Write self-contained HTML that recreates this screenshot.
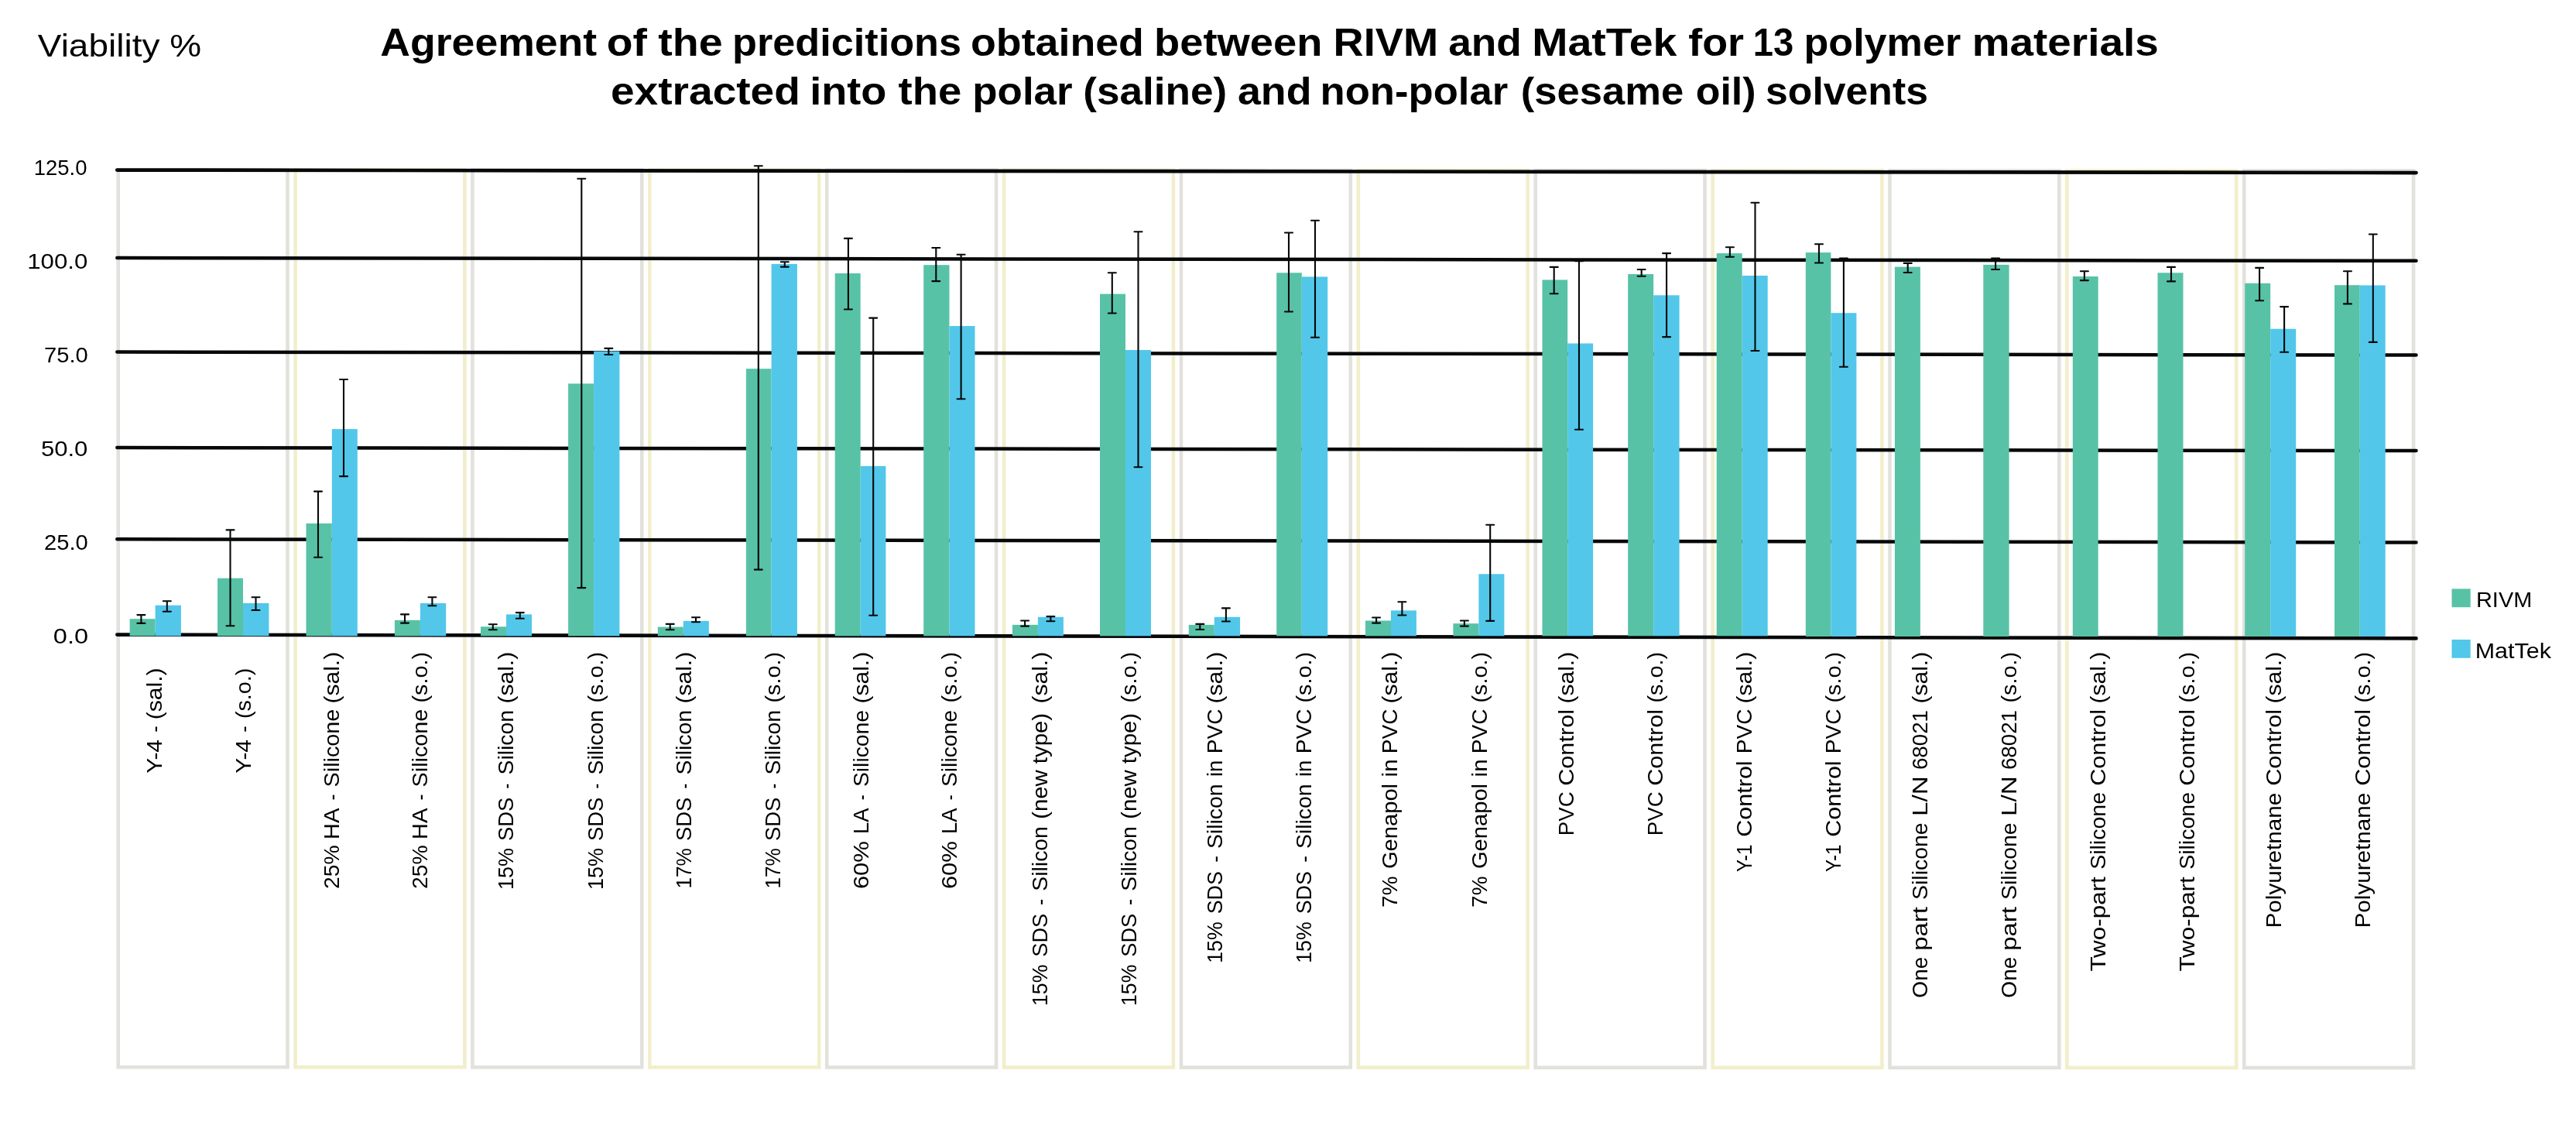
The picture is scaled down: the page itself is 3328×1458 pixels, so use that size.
<!DOCTYPE html>
<html lang="en">
<head>
<meta charset="utf-8">
<title>Agreement of the predictions obtained between RIVM and MatTek</title>
<style>
html,body{margin:0;padding:0;background:#fff;}
body{width:3328px;height:1458px;overflow:hidden;font-family:"Liberation Sans",sans-serif;}
svg{display:block;will-change:transform;}
svg text{font-family:"Liberation Sans",sans-serif;fill:#000;}
</style>
</head>
<body>
<svg width="3328" height="1458" viewBox="0 0 3328 1458">
<rect x="0" y="0" width="3328" height="1458" fill="#ffffff"/>
<rect x="152.70" y="219.20" width="218.80" height="1158.90" fill="none" stroke="#e2e1dc" stroke-width="4.6"/>
<rect x="381.58" y="219.31" width="218.80" height="1158.86" fill="none" stroke="#f2eecb" stroke-width="4.6"/>
<rect x="610.46" y="219.42" width="218.80" height="1158.82" fill="none" stroke="#e2e1dc" stroke-width="4.6"/>
<rect x="839.34" y="219.53" width="218.80" height="1158.78" fill="none" stroke="#f2eecb" stroke-width="4.6"/>
<rect x="1068.22" y="219.63" width="218.80" height="1158.73" fill="none" stroke="#e2e1dc" stroke-width="4.6"/>
<rect x="1297.10" y="219.74" width="218.80" height="1158.69" fill="none" stroke="#f2eecb" stroke-width="4.6"/>
<rect x="1525.98" y="219.85" width="218.80" height="1158.65" fill="none" stroke="#e2e1dc" stroke-width="4.6"/>
<rect x="1754.86" y="219.96" width="218.80" height="1158.61" fill="none" stroke="#f2eecb" stroke-width="4.6"/>
<rect x="1983.74" y="220.07" width="218.80" height="1158.57" fill="none" stroke="#e2e1dc" stroke-width="4.6"/>
<rect x="2212.62" y="220.18" width="218.80" height="1158.53" fill="none" stroke="#f2eecb" stroke-width="4.6"/>
<rect x="2441.50" y="220.28" width="218.80" height="1158.48" fill="none" stroke="#e2e1dc" stroke-width="4.6"/>
<rect x="2670.38" y="220.39" width="218.80" height="1158.44" fill="none" stroke="#f2eecb" stroke-width="4.6"/>
<rect x="2899.26" y="220.50" width="218.80" height="1158.40" fill="none" stroke="#e2e1dc" stroke-width="4.6"/>
<line x1="151.3" y1="219.6" x2="3121.5" y2="223.1" stroke="#060809" stroke-width="4.7" stroke-linecap="round"/>
<line x1="151.3" y1="333.0" x2="3121.5" y2="336.8" stroke="#060809" stroke-width="4.5" stroke-linecap="round"/>
<line x1="151.3" y1="454.5" x2="3121.5" y2="458.6" stroke="#060809" stroke-width="4.5" stroke-linecap="round"/>
<line x1="151.3" y1="578.1" x2="3121.5" y2="582.1" stroke="#060809" stroke-width="4.5" stroke-linecap="round"/>
<line x1="151.3" y1="696.3" x2="3121.5" y2="700.5" stroke="#060809" stroke-width="4.5" stroke-linecap="round"/>
<line x1="151.3" y1="819.6" x2="3121.5" y2="824.4" stroke="#060809" stroke-width="4.6" stroke-linecap="round"/>
<rect x="167.6" y="799.2" width="33.00" height="22.10" fill="#58c2a7"/>
<rect x="200.6" y="781.7" width="33.30" height="39.60" fill="#52c7ea"/>
<rect x="281.0" y="746.7" width="33.00" height="74.60" fill="#58c2a7"/>
<rect x="314.0" y="779.0" width="33.40" height="42.30" fill="#52c7ea"/>
<rect x="395.5" y="676.0" width="33.30" height="145.30" fill="#58c2a7"/>
<rect x="428.8" y="554.1" width="33.00" height="267.20" fill="#52c7ea"/>
<rect x="509.9" y="800.9" width="33.00" height="20.40" fill="#58c2a7"/>
<rect x="542.9" y="779.0" width="33.30" height="42.30" fill="#52c7ea"/>
<rect x="621.0" y="809.3" width="33.00" height="12.00" fill="#58c2a7"/>
<rect x="654.0" y="793.4" width="33.00" height="27.90" fill="#52c7ea"/>
<rect x="734.1" y="495.4" width="33.00" height="325.90" fill="#58c2a7"/>
<rect x="767.1" y="453.6" width="33.30" height="367.70" fill="#52c7ea"/>
<rect x="849.8" y="809.6" width="33.00" height="11.70" fill="#58c2a7"/>
<rect x="882.8" y="801.9" width="33.00" height="19.40" fill="#52c7ea"/>
<rect x="963.9" y="476.2" width="32.70" height="345.10" fill="#58c2a7"/>
<rect x="996.6" y="340.9" width="33.30" height="480.40" fill="#52c7ea"/>
<rect x="1078.7" y="353.0" width="33.00" height="468.30" fill="#58c2a7"/>
<rect x="1111.7" y="601.9" width="32.70" height="219.40" fill="#52c7ea"/>
<rect x="1193.2" y="342.2" width="33.30" height="479.10" fill="#58c2a7"/>
<rect x="1226.5" y="421.0" width="33.00" height="400.30" fill="#52c7ea"/>
<rect x="1307.9" y="806.9" width="33.00" height="14.40" fill="#58c2a7"/>
<rect x="1340.9" y="796.8" width="33.00" height="24.50" fill="#52c7ea"/>
<rect x="1421.0" y="379.6" width="33.00" height="441.70" fill="#58c2a7"/>
<rect x="1454.0" y="452.0" width="33.00" height="369.30" fill="#52c7ea"/>
<rect x="1535.8" y="806.9" width="33.00" height="14.40" fill="#58c2a7"/>
<rect x="1568.8" y="796.8" width="33.30" height="24.50" fill="#52c7ea"/>
<rect x="1649.2" y="352.3" width="32.60" height="469.00" fill="#58c2a7"/>
<rect x="1681.8" y="357.4" width="33.40" height="463.90" fill="#52c7ea"/>
<rect x="1764.0" y="801.5" width="33.00" height="19.80" fill="#58c2a7"/>
<rect x="1797.0" y="788.4" width="32.90" height="32.90" fill="#52c7ea"/>
<rect x="1877.4" y="805.2" width="33.00" height="16.10" fill="#58c2a7"/>
<rect x="1910.4" y="741.3" width="33.00" height="80.00" fill="#52c7ea"/>
<rect x="1992.5" y="361.4" width="32.70" height="459.90" fill="#58c2a7"/>
<rect x="2025.2" y="443.5" width="32.90" height="377.80" fill="#52c7ea"/>
<rect x="2103.2" y="354.0" width="33.00" height="467.30" fill="#58c2a7"/>
<rect x="2136.2" y="381.3" width="33.40" height="440.00" fill="#52c7ea"/>
<rect x="2217.7" y="327.1" width="33.00" height="494.20" fill="#58c2a7"/>
<rect x="2250.7" y="356.0" width="33.00" height="465.30" fill="#52c7ea"/>
<rect x="2332.8" y="326.1" width="32.60" height="495.90" fill="#58c2a7"/>
<rect x="2365.4" y="404.2" width="33.00" height="417.80" fill="#52c7ea"/>
<rect x="2447.9" y="344.6" width="33.00" height="477.40" fill="#58c2a7"/>
<rect x="2562.3" y="341.9" width="33.30" height="480.10" fill="#58c2a7"/>
<rect x="2677.8" y="357.0" width="32.90" height="465.00" fill="#58c2a7"/>
<rect x="2787.5" y="352.3" width="33.00" height="469.70" fill="#58c2a7"/>
<rect x="2900.2" y="365.8" width="33.00" height="456.20" fill="#58c2a7"/>
<rect x="2933.2" y="424.7" width="33.00" height="397.30" fill="#52c7ea"/>
<rect x="3016.0" y="368.2" width="32.70" height="453.80" fill="#58c2a7"/>
<rect x="3048.7" y="368.5" width="33.00" height="453.50" fill="#52c7ea"/>
<path d="M182.4 794.1V804.9M177.40 794.1h10.0M177.40 804.9h10.0M215.8 776.3V789.7M210.80 776.3h10.0M210.80 789.7h10.0M297.5 684.4V808.3M292.50 684.4h10.0M292.50 808.3h10.0M330.5 771.2V788.0M325.50 771.2h10.0M325.50 788.0h10.0M411.0 634.6V719.7M406.00 634.6h10.0M406.00 719.7h10.0M444.0 490.0V615.1M439.00 490.0h10.0M439.00 615.1h10.0M523.0 793.4V804.6M518.00 793.4h10.0M518.00 804.6h10.0M558.4 771.2V782.3M553.40 771.2h10.0M553.40 782.3h10.0M636.8 806.2V813.3M631.80 806.2h10.0M631.80 813.3h10.0M671.8 791.1V798.8M666.80 791.1h10.0M666.80 798.8h10.0M751.3 230.8V759.1M746.30 230.8h10.0M746.30 759.1h10.0M786.3 449.9V458.0M781.30 449.9h10.0M781.30 458.0h10.0M865.7 805.9V813.3M860.70 805.9h10.0M860.70 813.3h10.0M899.0 797.2V803.2M894.00 797.2h10.0M894.00 803.2h10.0M979.8 214.3V735.6M974.80 214.3h10.0M974.80 735.6h10.0M1013.8 338.2V344.6M1008.80 338.2h10.0M1008.80 344.6h10.0M1095.9 307.9V399.5M1090.90 307.9h10.0M1090.90 399.5h10.0M1128.2 410.6V794.8M1123.20 410.6h10.0M1123.20 794.8h10.0M1209.3 320.0V363.1M1204.30 320.0h10.0M1204.30 363.1h10.0M1241.6 328.8V515.2M1236.60 328.8h10.0M1236.60 515.2h10.0M1324.1 801.5V808.6M1319.10 801.5h10.0M1319.10 808.6h10.0M1357.4 796.1V802.2M1352.40 796.1h10.0M1352.40 802.2h10.0M1436.8 352.3V404.5M1431.80 352.3h10.0M1431.80 404.5h10.0M1470.5 299.2V603.3M1465.50 299.2h10.0M1465.50 603.3h10.0M1550.3 805.9V813.0M1545.30 805.9h10.0M1545.30 813.0h10.0M1583.9 785.4V802.5M1578.90 785.4h10.0M1578.90 802.5h10.0M1665.0 300.5V402.5M1660.00 300.5h10.0M1660.00 402.5h10.0M1699.0 284.7V435.8M1694.00 284.7h10.0M1694.00 435.8h10.0M1778.1 797.5V804.6M1773.10 797.5h10.0M1773.10 804.6h10.0M1811.4 777.3V794.5M1806.40 777.3h10.0M1806.40 794.5h10.0M1891.9 801.5V808.6M1886.90 801.5h10.0M1886.90 808.6h10.0M1925.2 677.7V801.9M1920.20 677.7h10.0M1920.20 801.9h10.0M2007.7 344.9V379.3M2002.70 344.9h10.0M2002.70 379.3h10.0M2040.0 337.2V554.8M2035.00 337.2h10.0M2035.00 554.8h10.0M2120.7 348.0V356.7M2115.70 348.0h10.0M2115.70 356.7h10.0M2153.1 327.1V435.1M2148.10 327.1h10.0M2148.10 435.1h10.0M2234.9 319.3V331.8M2229.90 319.3h10.0M2229.90 331.8h10.0M2267.5 261.8V453.0M2262.50 261.8h10.0M2262.50 453.0h10.0M2350.0 315.3V339.5M2345.00 315.3h10.0M2345.00 339.5h10.0M2381.9 333.5V473.8M2376.90 333.5h10.0M2376.90 473.8h10.0M2464.7 339.9V352.0M2459.70 339.9h10.0M2459.70 352.0h10.0M2578.1 333.5V348.0M2573.10 333.5h10.0M2573.10 348.0h10.0M2692.9 350.3V362.1M2687.90 350.3h10.0M2687.90 362.1h10.0M2805.0 344.9V363.4M2800.00 344.9h10.0M2800.00 363.4h10.0M2919.1 345.9V388.3M2914.10 345.9h10.0M2914.10 388.3h10.0M2951.1 396.1V454.7M2946.10 396.1h10.0M2946.10 454.7h10.0M3032.9 350.3V392.4M3027.90 350.3h10.0M3027.90 392.4h10.0M3065.8 302.5V441.9M3060.80 302.5h10.0M3060.80 441.9h10.0" fill="none" stroke="#060809" stroke-width="2.1" stroke-linecap="round"/>
<text x="43.81" y="225.9" font-size="27.5" textLength="68.68" lengthAdjust="spacingAndGlyphs">125.0</text>
<text x="35.25" y="346.6" font-size="27.5" textLength="78.13" lengthAdjust="spacingAndGlyphs">100.0</text>
<text x="57.10" y="467.8" font-size="27.5" textLength="56.70" lengthAdjust="spacingAndGlyphs">75.0</text>
<text x="52.93" y="588.9" font-size="27.5" textLength="60.48" lengthAdjust="spacingAndGlyphs">50.0</text>
<text x="57.10" y="710.1" font-size="27.5" textLength="56.70" lengthAdjust="spacingAndGlyphs">25.0</text>
<text x="68.88" y="831.0" font-size="27.5" textLength="45.17" lengthAdjust="spacingAndGlyphs">0.0</text>
<text x="48.83" y="73.4" font-size="40.6" textLength="211.21" lengthAdjust="spacingAndGlyphs">Viability %</text>
<text x="491.36" y="72.4" font-size="50.7" font-weight="bold" textLength="279.81" lengthAdjust="spacingAndGlyphs">Agreement</text>
<text x="783.83" y="72.4" font-size="50.7" font-weight="bold" textLength="52.12" lengthAdjust="spacingAndGlyphs">of</text>
<text x="850.26" y="72.4" font-size="50.7" font-weight="bold" textLength="83.44" lengthAdjust="spacingAndGlyphs">the</text>
<text x="945.98" y="72.4" font-size="50.7" font-weight="bold" textLength="296.11" lengthAdjust="spacingAndGlyphs">predicitions</text>
<text x="1254.04" y="72.4" font-size="50.7" font-weight="bold" textLength="223.91" lengthAdjust="spacingAndGlyphs">obtained</text>
<text x="1491.14" y="72.4" font-size="50.7" font-weight="bold" textLength="217.35" lengthAdjust="spacingAndGlyphs">between</text>
<text x="1722.56" y="72.4" font-size="50.7" font-weight="bold" textLength="135.51" lengthAdjust="spacingAndGlyphs">RIVM</text>
<text x="1871.15" y="72.4" font-size="50.7" font-weight="bold" textLength="94.82" lengthAdjust="spacingAndGlyphs">and</text>
<text x="1979.30" y="72.4" font-size="50.7" font-weight="bold" textLength="187.05" lengthAdjust="spacingAndGlyphs">MatTek</text>
<text x="2181.21" y="72.4" font-size="50.7" font-weight="bold" textLength="71.82" lengthAdjust="spacingAndGlyphs">for</text>
<text x="2264.72" y="72.4" font-size="50.7" font-weight="bold" textLength="52.49" lengthAdjust="spacingAndGlyphs">13</text>
<text x="2330.51" y="72.4" font-size="50.7" font-weight="bold" textLength="202.66" lengthAdjust="spacingAndGlyphs">polymer</text>
<text x="2547.77" y="72.4" font-size="50.7" font-weight="bold" textLength="240.91" lengthAdjust="spacingAndGlyphs">materials</text>
<text x="788.99" y="135.3" font-size="50.7" font-weight="bold" textLength="244.90" lengthAdjust="spacingAndGlyphs">extracted</text>
<text x="1046.19" y="135.3" font-size="50.7" font-weight="bold" textLength="99.28" lengthAdjust="spacingAndGlyphs">into</text>
<text x="1160.58" y="135.3" font-size="50.7" font-weight="bold" textLength="81.65" lengthAdjust="spacingAndGlyphs">the</text>
<text x="1256.30" y="135.3" font-size="50.7" font-weight="bold" textLength="129.32" lengthAdjust="spacingAndGlyphs">polar</text>
<text x="1399.25" y="135.3" font-size="50.7" font-weight="bold" textLength="185.92" lengthAdjust="spacingAndGlyphs">(saline)</text>
<text x="1598.94" y="135.3" font-size="50.7" font-weight="bold" textLength="95.61" lengthAdjust="spacingAndGlyphs">and</text>
<text x="1705.56" y="135.3" font-size="50.7" font-weight="bold" textLength="242.65" lengthAdjust="spacingAndGlyphs">non-polar</text>
<text x="1964.83" y="135.3" font-size="50.7" font-weight="bold" textLength="210.47" lengthAdjust="spacingAndGlyphs">(sesame</text>
<text x="2190.78" y="135.3" font-size="50.7" font-weight="bold" textLength="77.81" lengthAdjust="spacingAndGlyphs">oil)</text>
<text x="2281.04" y="135.3" font-size="50.7" font-weight="bold" textLength="209.88" lengthAdjust="spacingAndGlyphs">solvents</text>
<rect x="3167.5" y="760.4" width="24.2" height="23.8" fill="#58c2a7"/>
<rect x="3167.5" y="826.0" width="24.2" height="23.8" fill="#52c7ea"/>
<text x="3199.03" y="784.0" font-size="27.8" textLength="72.20" lengthAdjust="spacingAndGlyphs">RIVM</text>
<text x="3197.70" y="849.9" font-size="27.8" textLength="98.25" lengthAdjust="spacingAndGlyphs">MatTek</text>
<text transform="translate(209.3 929.23) rotate(-90)" font-size="27.5" textLength="66.73" lengthAdjust="spacingAndGlyphs">(sal.)</text>
<text transform="translate(209.3 945.70) rotate(-90)" font-size="27.5" textLength="8.40" lengthAdjust="spacingAndGlyphs">-</text>
<text transform="translate(209.3 998.71) rotate(-90)" font-size="27.5" textLength="43.64" lengthAdjust="spacingAndGlyphs">Y-4</text>
<text transform="translate(323.8 928.09) rotate(-90)" font-size="27.5" textLength="65.48" lengthAdjust="spacingAndGlyphs">(s.o.)</text>
<text transform="translate(323.8 945.70) rotate(-90)" font-size="27.5" textLength="8.40" lengthAdjust="spacingAndGlyphs">-</text>
<text transform="translate(323.8 998.71) rotate(-90)" font-size="27.5" textLength="43.64" lengthAdjust="spacingAndGlyphs">Y-4</text>
<text transform="translate(438.0 908.52) rotate(-90)" font-size="27.5" textLength="66.73" lengthAdjust="spacingAndGlyphs">(sal.)</text>
<text transform="translate(438.0 1016.42) rotate(-90)" font-size="27.5" textLength="100.69" lengthAdjust="spacingAndGlyphs">Silicone</text>
<text transform="translate(438.0 1033.40) rotate(-90)" font-size="27.5" textLength="7.94" lengthAdjust="spacingAndGlyphs">-</text>
<text transform="translate(438.0 1084.18) rotate(-90)" font-size="27.5" textLength="40.75" lengthAdjust="spacingAndGlyphs">HA</text>
<text transform="translate(438.0 1147.90) rotate(-90)" font-size="27.5" textLength="56.66" lengthAdjust="spacingAndGlyphs">25%</text>
<text transform="translate(552.0 907.47) rotate(-90)" font-size="27.5" textLength="65.48" lengthAdjust="spacingAndGlyphs">(s.o.)</text>
<text transform="translate(552.0 1016.42) rotate(-90)" font-size="27.5" textLength="100.69" lengthAdjust="spacingAndGlyphs">Silicone</text>
<text transform="translate(552.0 1033.40) rotate(-90)" font-size="27.5" textLength="7.94" lengthAdjust="spacingAndGlyphs">-</text>
<text transform="translate(552.0 1084.18) rotate(-90)" font-size="27.5" textLength="40.75" lengthAdjust="spacingAndGlyphs">HA</text>
<text transform="translate(552.0 1147.90) rotate(-90)" font-size="27.5" textLength="56.66" lengthAdjust="spacingAndGlyphs">25%</text>
<text transform="translate(663.2 908.52) rotate(-90)" font-size="27.5" textLength="66.73" lengthAdjust="spacingAndGlyphs">(sal.)</text>
<text transform="translate(663.2 1000.47) rotate(-90)" font-size="27.5" textLength="83.49" lengthAdjust="spacingAndGlyphs">Silicon</text>
<text transform="translate(663.2 1018.50) rotate(-90)" font-size="27.5" textLength="6.60" lengthAdjust="spacingAndGlyphs">-</text>
<text transform="translate(663.2 1086.04) rotate(-90)" font-size="27.5" textLength="56.28" lengthAdjust="spacingAndGlyphs">SDS</text>
<text transform="translate(663.2 1148.99) rotate(-90)" font-size="27.5" textLength="53.98" lengthAdjust="spacingAndGlyphs">15%</text>
<text transform="translate(778.5 907.47) rotate(-90)" font-size="27.5" textLength="65.48" lengthAdjust="spacingAndGlyphs">(s.o.)</text>
<text transform="translate(778.5 1000.47) rotate(-90)" font-size="27.5" textLength="83.49" lengthAdjust="spacingAndGlyphs">Silicon</text>
<text transform="translate(778.5 1018.50) rotate(-90)" font-size="27.5" textLength="6.60" lengthAdjust="spacingAndGlyphs">-</text>
<text transform="translate(778.5 1086.04) rotate(-90)" font-size="27.5" textLength="56.28" lengthAdjust="spacingAndGlyphs">SDS</text>
<text transform="translate(778.5 1148.99) rotate(-90)" font-size="27.5" textLength="53.98" lengthAdjust="spacingAndGlyphs">15%</text>
<text transform="translate(892.6 908.52) rotate(-90)" font-size="27.5" textLength="66.73" lengthAdjust="spacingAndGlyphs">(sal.)</text>
<text transform="translate(892.6 1000.47) rotate(-90)" font-size="27.5" textLength="83.49" lengthAdjust="spacingAndGlyphs">Silicon</text>
<text transform="translate(892.6 1018.50) rotate(-90)" font-size="27.5" textLength="6.60" lengthAdjust="spacingAndGlyphs">-</text>
<text transform="translate(892.6 1086.04) rotate(-90)" font-size="27.5" textLength="56.28" lengthAdjust="spacingAndGlyphs">SDS</text>
<text transform="translate(892.6 1147.47) rotate(-90)" font-size="27.5" textLength="52.29" lengthAdjust="spacingAndGlyphs">17%</text>
<text transform="translate(1007.7 907.47) rotate(-90)" font-size="27.5" textLength="65.48" lengthAdjust="spacingAndGlyphs">(s.o.)</text>
<text transform="translate(1007.7 1000.47) rotate(-90)" font-size="27.5" textLength="83.49" lengthAdjust="spacingAndGlyphs">Silicon</text>
<text transform="translate(1007.7 1018.50) rotate(-90)" font-size="27.5" textLength="6.60" lengthAdjust="spacingAndGlyphs">-</text>
<text transform="translate(1007.7 1086.04) rotate(-90)" font-size="27.5" textLength="56.28" lengthAdjust="spacingAndGlyphs">SDS</text>
<text transform="translate(1007.7 1147.47) rotate(-90)" font-size="27.5" textLength="52.29" lengthAdjust="spacingAndGlyphs">17%</text>
<text transform="translate(1121.5 908.52) rotate(-90)" font-size="27.5" textLength="66.73" lengthAdjust="spacingAndGlyphs">(sal.)</text>
<text transform="translate(1121.5 1016.04) rotate(-90)" font-size="27.5" textLength="99.07" lengthAdjust="spacingAndGlyphs">Silicone</text>
<text transform="translate(1121.5 1033.30) rotate(-90)" font-size="27.5" textLength="6.80" lengthAdjust="spacingAndGlyphs">-</text>
<text transform="translate(1121.5 1077.04) rotate(-90)" font-size="27.5" textLength="33.50" lengthAdjust="spacingAndGlyphs">LA</text>
<text transform="translate(1121.5 1148.09) rotate(-90)" font-size="27.5" textLength="61.86" lengthAdjust="spacingAndGlyphs">60%</text>
<text transform="translate(1235.9 907.47) rotate(-90)" font-size="27.5" textLength="65.48" lengthAdjust="spacingAndGlyphs">(s.o.)</text>
<text transform="translate(1235.9 1016.04) rotate(-90)" font-size="27.5" textLength="99.07" lengthAdjust="spacingAndGlyphs">Silicone</text>
<text transform="translate(1235.9 1033.30) rotate(-90)" font-size="27.5" textLength="6.80" lengthAdjust="spacingAndGlyphs">-</text>
<text transform="translate(1235.9 1077.04) rotate(-90)" font-size="27.5" textLength="33.50" lengthAdjust="spacingAndGlyphs">LA</text>
<text transform="translate(1235.9 1148.09) rotate(-90)" font-size="27.5" textLength="61.86" lengthAdjust="spacingAndGlyphs">60%</text>
<text transform="translate(1353.0 908.52) rotate(-90)" font-size="27.5" textLength="66.73" lengthAdjust="spacingAndGlyphs">(sal.)</text>
<text transform="translate(1353.0 1057.85) rotate(-90)" font-size="27.5" textLength="136.86" lengthAdjust="spacingAndGlyphs">(new type)</text>
<text transform="translate(1353.0 1150.66) rotate(-90)" font-size="27.5" textLength="83.49" lengthAdjust="spacingAndGlyphs">Silicon</text>
<text transform="translate(1353.0 1169.09) rotate(-90)" font-size="27.5" textLength="8.19" lengthAdjust="spacingAndGlyphs">-</text>
<text transform="translate(1353.0 1235.66) rotate(-90)" font-size="27.5" textLength="55.91" lengthAdjust="spacingAndGlyphs">SDS</text>
<text transform="translate(1353.0 1298.99) rotate(-90)" font-size="27.5" textLength="53.46" lengthAdjust="spacingAndGlyphs">15%</text>
<text transform="translate(1467.5 907.47) rotate(-90)" font-size="27.5" textLength="65.48" lengthAdjust="spacingAndGlyphs">(s.o.)</text>
<text transform="translate(1467.5 1057.85) rotate(-90)" font-size="27.5" textLength="136.86" lengthAdjust="spacingAndGlyphs">(new type)</text>
<text transform="translate(1467.5 1150.66) rotate(-90)" font-size="27.5" textLength="83.49" lengthAdjust="spacingAndGlyphs">Silicon</text>
<text transform="translate(1467.5 1169.09) rotate(-90)" font-size="27.5" textLength="8.19" lengthAdjust="spacingAndGlyphs">-</text>
<text transform="translate(1467.5 1235.66) rotate(-90)" font-size="27.5" textLength="55.91" lengthAdjust="spacingAndGlyphs">SDS</text>
<text transform="translate(1467.5 1298.99) rotate(-90)" font-size="27.5" textLength="53.46" lengthAdjust="spacingAndGlyphs">15%</text>
<text transform="translate(1578.6 908.52) rotate(-90)" font-size="27.5" textLength="66.73" lengthAdjust="spacingAndGlyphs">(sal.)</text>
<text transform="translate(1578.6 973.23) rotate(-90)" font-size="27.5" textLength="57.75" lengthAdjust="spacingAndGlyphs">PVC</text>
<text transform="translate(1578.6 1003.09) rotate(-90)" font-size="27.5" textLength="21.46" lengthAdjust="spacingAndGlyphs">in</text>
<text transform="translate(1578.6 1096.04) rotate(-90)" font-size="27.5" textLength="83.49" lengthAdjust="spacingAndGlyphs">Silicon</text>
<text transform="translate(1578.6 1113.70) rotate(-90)" font-size="27.5" textLength="8.71" lengthAdjust="spacingAndGlyphs">-</text>
<text transform="translate(1578.6 1180.28) rotate(-90)" font-size="27.5" textLength="55.04" lengthAdjust="spacingAndGlyphs">SDS</text>
<text transform="translate(1578.6 1243.80) rotate(-90)" font-size="27.5" textLength="53.50" lengthAdjust="spacingAndGlyphs">15%</text>
<text transform="translate(1693.6 907.47) rotate(-90)" font-size="27.5" textLength="65.48" lengthAdjust="spacingAndGlyphs">(s.o.)</text>
<text transform="translate(1693.6 973.23) rotate(-90)" font-size="27.5" textLength="57.75" lengthAdjust="spacingAndGlyphs">PVC</text>
<text transform="translate(1693.6 1003.09) rotate(-90)" font-size="27.5" textLength="21.46" lengthAdjust="spacingAndGlyphs">in</text>
<text transform="translate(1693.6 1096.04) rotate(-90)" font-size="27.5" textLength="83.49" lengthAdjust="spacingAndGlyphs">Silicon</text>
<text transform="translate(1693.6 1113.70) rotate(-90)" font-size="27.5" textLength="8.71" lengthAdjust="spacingAndGlyphs">-</text>
<text transform="translate(1693.6 1180.28) rotate(-90)" font-size="27.5" textLength="55.04" lengthAdjust="spacingAndGlyphs">SDS</text>
<text transform="translate(1693.6 1243.80) rotate(-90)" font-size="27.5" textLength="53.50" lengthAdjust="spacingAndGlyphs">15%</text>
<text transform="translate(1805.4 908.52) rotate(-90)" font-size="27.5" textLength="66.73" lengthAdjust="spacingAndGlyphs">(sal.)</text>
<text transform="translate(1805.4 973.23) rotate(-90)" font-size="27.5" textLength="57.75" lengthAdjust="spacingAndGlyphs">PVC</text>
<text transform="translate(1805.4 1003.42) rotate(-90)" font-size="27.5" textLength="23.04" lengthAdjust="spacingAndGlyphs">in</text>
<text transform="translate(1805.4 1122.04) rotate(-90)" font-size="27.5" textLength="110.09" lengthAdjust="spacingAndGlyphs">Genapol</text>
<text transform="translate(1805.4 1171.90) rotate(-90)" font-size="27.5" textLength="40.39" lengthAdjust="spacingAndGlyphs">7%</text>
<text transform="translate(1920.5 907.47) rotate(-90)" font-size="27.5" textLength="65.48" lengthAdjust="spacingAndGlyphs">(s.o.)</text>
<text transform="translate(1920.5 973.23) rotate(-90)" font-size="27.5" textLength="57.75" lengthAdjust="spacingAndGlyphs">PVC</text>
<text transform="translate(1920.5 1003.42) rotate(-90)" font-size="27.5" textLength="23.04" lengthAdjust="spacingAndGlyphs">in</text>
<text transform="translate(1920.5 1122.04) rotate(-90)" font-size="27.5" textLength="110.09" lengthAdjust="spacingAndGlyphs">Genapol</text>
<text transform="translate(1920.5 1171.90) rotate(-90)" font-size="27.5" textLength="40.39" lengthAdjust="spacingAndGlyphs">7%</text>
<text transform="translate(2032.6 908.52) rotate(-90)" font-size="27.5" textLength="66.73" lengthAdjust="spacingAndGlyphs">(sal.)</text>
<text transform="translate(2032.6 1014.85) rotate(-90)" font-size="27.5" textLength="98.89" lengthAdjust="spacingAndGlyphs">Control</text>
<text transform="translate(2032.6 1079.23) rotate(-90)" font-size="27.5" textLength="56.91" lengthAdjust="spacingAndGlyphs">PVC</text>
<text transform="translate(2147.7 907.47) rotate(-90)" font-size="27.5" textLength="65.48" lengthAdjust="spacingAndGlyphs">(s.o.)</text>
<text transform="translate(2147.7 1014.85) rotate(-90)" font-size="27.5" textLength="98.89" lengthAdjust="spacingAndGlyphs">Control</text>
<text transform="translate(2147.7 1079.23) rotate(-90)" font-size="27.5" textLength="56.91" lengthAdjust="spacingAndGlyphs">PVC</text>
<text transform="translate(2263.1 908.52) rotate(-90)" font-size="27.5" textLength="66.73" lengthAdjust="spacingAndGlyphs">(sal.)</text>
<text transform="translate(2263.1 973.23) rotate(-90)" font-size="27.5" textLength="57.75" lengthAdjust="spacingAndGlyphs">PVC</text>
<text transform="translate(2263.1 1080.66) rotate(-90)" font-size="27.5" textLength="98.29" lengthAdjust="spacingAndGlyphs">Control</text>
<text transform="translate(2263.1 1125.90) rotate(-90)" font-size="27.5" textLength="35.28" lengthAdjust="spacingAndGlyphs">Y-1</text>
<text transform="translate(2378.2 907.47) rotate(-90)" font-size="27.5" textLength="65.48" lengthAdjust="spacingAndGlyphs">(s.o.)</text>
<text transform="translate(2378.2 973.23) rotate(-90)" font-size="27.5" textLength="57.75" lengthAdjust="spacingAndGlyphs">PVC</text>
<text transform="translate(2378.2 1080.66) rotate(-90)" font-size="27.5" textLength="98.29" lengthAdjust="spacingAndGlyphs">Control</text>
<text transform="translate(2378.2 1125.90) rotate(-90)" font-size="27.5" textLength="35.28" lengthAdjust="spacingAndGlyphs">Y-1</text>
<text transform="translate(2489.7 908.52) rotate(-90)" font-size="27.5" textLength="66.73" lengthAdjust="spacingAndGlyphs">(sal.)</text>
<text transform="translate(2489.7 994.09) rotate(-90)" font-size="27.5" textLength="77.05" lengthAdjust="spacingAndGlyphs">68021</text>
<text transform="translate(2489.7 1053.99) rotate(-90)" font-size="27.5" textLength="51.71" lengthAdjust="spacingAndGlyphs">L/N</text>
<text transform="translate(2489.7 1161.90) rotate(-90)" font-size="27.5" textLength="99.43" lengthAdjust="spacingAndGlyphs">Silicone</text>
<text transform="translate(2489.7 1227.85) rotate(-90)" font-size="27.5" textLength="56.66" lengthAdjust="spacingAndGlyphs">part</text>
<text transform="translate(2489.7 1288.70) rotate(-90)" font-size="27.5" textLength="53.05" lengthAdjust="spacingAndGlyphs">One</text>
<text transform="translate(2604.7 907.47) rotate(-90)" font-size="27.5" textLength="65.48" lengthAdjust="spacingAndGlyphs">(s.o.)</text>
<text transform="translate(2604.7 994.09) rotate(-90)" font-size="27.5" textLength="77.05" lengthAdjust="spacingAndGlyphs">68021</text>
<text transform="translate(2604.7 1053.99) rotate(-90)" font-size="27.5" textLength="51.71" lengthAdjust="spacingAndGlyphs">L/N</text>
<text transform="translate(2604.7 1161.90) rotate(-90)" font-size="27.5" textLength="99.43" lengthAdjust="spacingAndGlyphs">Silicone</text>
<text transform="translate(2604.7 1227.85) rotate(-90)" font-size="27.5" textLength="56.66" lengthAdjust="spacingAndGlyphs">part</text>
<text transform="translate(2604.7 1288.70) rotate(-90)" font-size="27.5" textLength="53.05" lengthAdjust="spacingAndGlyphs">One</text>
<text transform="translate(2719.8 908.52) rotate(-90)" font-size="27.5" textLength="66.73" lengthAdjust="spacingAndGlyphs">(sal.)</text>
<text transform="translate(2719.8 1014.85) rotate(-90)" font-size="27.5" textLength="98.89" lengthAdjust="spacingAndGlyphs">Control</text>
<text transform="translate(2719.8 1122.85) rotate(-90)" font-size="27.5" textLength="99.89" lengthAdjust="spacingAndGlyphs">Silicone</text>
<text transform="translate(2719.8 1254.40) rotate(-90)" font-size="27.5" textLength="122.20" lengthAdjust="spacingAndGlyphs">Two-part</text>
<text transform="translate(2834.9 907.47) rotate(-90)" font-size="27.5" textLength="65.48" lengthAdjust="spacingAndGlyphs">(s.o.)</text>
<text transform="translate(2834.9 1014.85) rotate(-90)" font-size="27.5" textLength="98.89" lengthAdjust="spacingAndGlyphs">Control</text>
<text transform="translate(2834.9 1122.85) rotate(-90)" font-size="27.5" textLength="99.89" lengthAdjust="spacingAndGlyphs">Silicone</text>
<text transform="translate(2834.9 1254.40) rotate(-90)" font-size="27.5" textLength="122.20" lengthAdjust="spacingAndGlyphs">Two-part</text>
<text transform="translate(2947.0 908.52) rotate(-90)" font-size="27.5" textLength="66.73" lengthAdjust="spacingAndGlyphs">(sal.)</text>
<text transform="translate(2947.0 1014.85) rotate(-90)" font-size="27.5" textLength="98.89" lengthAdjust="spacingAndGlyphs">Control</text>
<text transform="translate(2947.0 1198.42) rotate(-90)" font-size="27.5" textLength="174.66" lengthAdjust="spacingAndGlyphs">Polyuretnane</text>
<text transform="translate(3061.5 907.47) rotate(-90)" font-size="27.5" textLength="65.48" lengthAdjust="spacingAndGlyphs">(s.o.)</text>
<text transform="translate(3061.5 1014.85) rotate(-90)" font-size="27.5" textLength="98.89" lengthAdjust="spacingAndGlyphs">Control</text>
<text transform="translate(3061.5 1198.42) rotate(-90)" font-size="27.5" textLength="174.66" lengthAdjust="spacingAndGlyphs">Polyuretnane</text>
</svg>
</body>
</html>
